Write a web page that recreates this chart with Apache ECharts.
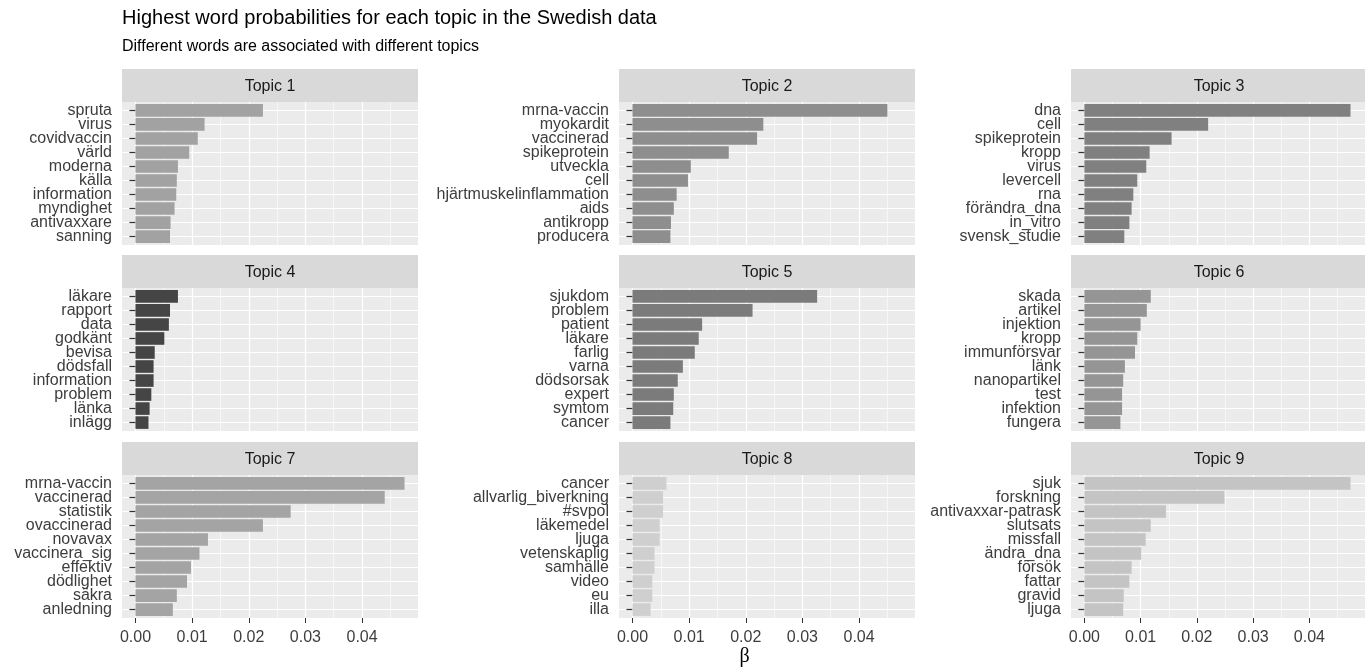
<!DOCTYPE html>
<html>
<head>
<meta charset="utf-8">
<title>Highest word probabilities for each topic in the Swedish data</title>
<script src="https://cdn.jsdelivr.net/npm/echarts@6/dist/echarts.min.js"></script>
<style>
  html, body { margin: 0; padding: 0; background: #ffffff; }
  #chart { width: 1365px; height: 672px; }
</style>
</head>
<body>
<div id="chart"></div>
<script>
// Top ten words per topic with their per-topic word probability (beta)
const topicNames = ['Topic 1', 'Topic 2', 'Topic 3', 'Topic 4', 'Topic 5', 'Topic 6', 'Topic 7', 'Topic 8', 'Topic 9'];

const words1 = ['spruta', 'virus', 'covidvaccin', 'värld', 'moderna', 'källa', 'information', 'myndighet', 'antivaxxare', 'sanning'];
const beta1  = [0.0225, 0.0122, 0.0110, 0.0095, 0.0075, 0.0073, 0.0072, 0.0069, 0.0062, 0.0061];

const words2 = ['mrna-vaccin', 'myokardit', 'vaccinerad', 'spikeprotein', 'utveckla', 'cell', 'hjärtmuskelinflammation', 'aids', 'antikropp', 'producera'];
const beta2  = [0.0450, 0.0231, 0.0220, 0.0170, 0.0103, 0.0098, 0.0078, 0.0073, 0.0068, 0.0067];

const words3 = ['dna', 'cell', 'spikeprotein', 'kropp', 'virus', 'levercell', 'rna', 'förändra_dna', 'in_vitro', 'svensk_studie'];
const beta3  = [0.0473, 0.0220, 0.0155, 0.0116, 0.0110, 0.0094, 0.0087, 0.0084, 0.0080, 0.0071];

const words4 = ['läkare', 'rapport', 'data', 'godkänt', 'bevisa', 'dödsfall', 'information', 'problem', 'länka', 'inlägg'];
const beta4  = [0.0075, 0.0061, 0.0059, 0.0051, 0.0034, 0.0032, 0.0032, 0.0028, 0.0025, 0.0023];

const words5 = ['sjukdom', 'problem', 'patient', 'läkare', 'farlig', 'varna', 'dödsorsak', 'expert', 'symtom', 'cancer'];
const beta5  = [0.0326, 0.0212, 0.0123, 0.0117, 0.0110, 0.0089, 0.0080, 0.0073, 0.0072, 0.0067];

const words6 = ['skada', 'artikel', 'injektion', 'kropp', 'immunförsvar', 'länk', 'nanopartikel', 'test', 'infektion', 'fungera'];
const beta6  = [0.0118, 0.0111, 0.0100, 0.0094, 0.0090, 0.0072, 0.0069, 0.0067, 0.0067, 0.0064];

const words7 = ['mrna-vaccin', 'vaccinerad', 'statistik', 'ovaccinerad', 'novavax', 'vaccinera_sig', 'effektiv', 'dödlighet', 'säkra', 'anledning'];
const beta7  = [0.0475, 0.0440, 0.0274, 0.0225, 0.0128, 0.0113, 0.0098, 0.0091, 0.0073, 0.0066];

const words8 = ['cancer', 'allvarlig_biverkning', '#svpol', 'läkemedel', 'ljuga', 'vetenskaplig', 'samhälle', 'video', 'eu', 'illa'];
const beta8  = [0.0060, 0.0054, 0.0054, 0.0048, 0.0048, 0.0039, 0.0039, 0.0035, 0.0035, 0.0032];

const words9 = ['sjuk', 'forskning', 'antivaxxar-patrask', 'slutsats', 'missfall', 'ändra_dna', 'försök', 'fattar', 'gravid', 'ljuga'];
const beta9  = [0.0473, 0.0249, 0.0145, 0.0118, 0.0109, 0.0101, 0.0084, 0.0080, 0.0070, 0.0069];

const barColors = ['#a2a2a2', '#8e8e8e', '#808080', '#454545', '#7b7b7b', '#959595', '#a4a4a4', '#cfcfcf', '#c4c4c4'];

const betaTicks = [0, 0.01, 0.02, 0.03, 0.04];

const topicWords = [words1, words2, words3, words4, words5, words6, words7, words8, words9];
const topicBetas = [beta1, beta2, beta3, beta4, beta5, beta6, beta7, beta8, beta9];

// Shared x scale across facets, padded 5% on both sides
const maxBeta = Math.max(...topicBetas.map(a => Math.max(...a)));
const xMin = -0.05 * maxBeta;
const xMax = 1.05 * maxBeta;

// Facet layout
const colLeft = [122, 619, 1071];
const rowTop = [102, 288, 475];
const panelW = 296;
const panelH = 143;
const stripH = 33;
// discrete axis padding: 0.6 of a step above the first and below the last word
const unit = panelH / (9 + 1.2);

const FONT = '"Liberation Sans", Arial, sans-serif';
const AXIS_TEXT = '#3d3d3d';

const grids = [], xAxes = [], yAxes = [], series = [], graphics = [];

topicNames.forEach((name, i) => {
  const r = Math.floor(i / 3), c = i % 3;
  const left = colLeft[c], top = rowTop[r];
  const bottomRow = r === 2;

  // panel frame: background, vertical grid lines and the beta axis
  grids.push({
    left: left, top: top, width: panelW, height: panelH,
    show: true, backgroundColor: '#ebebeb', borderWidth: 0, containLabel: false
  });
  // inner plotting area for the word axis and bars
  grids.push({
    left: left, top: top + 0.6 * unit, width: panelW, height: 9 * unit,
    show: false, containLabel: false
  });

  xAxes.push({
    gridIndex: 2 * i, type: 'value', min: xMin, max: xMax,
    axisLine: { show: false },
    axisTick: { show: bottomRow, customValues: betaTicks, length: 5, lineStyle: { color: '#333333', width: 1 } },
    axisLabel: {
      show: bottomRow, customValues: betaTicks, fontSize: 16, color: AXIS_TEXT, margin: 12,
      fontFamily: FONT, formatter: v => v.toFixed(2)
    },
    splitLine: { show: true, lineStyle: { color: '#ffffff', width: 1.2 } },
    minorTick: { show: false, splitNumber: 2 },
    minorSplitLine: { show: true, lineStyle: { color: 'rgba(255,255,255,0.6)', width: 1 } }
  });
  xAxes.push({
    gridIndex: 2 * i + 1, type: 'value', min: xMin, max: xMax, show: false
  });

  yAxes.push({ gridIndex: 2 * i, type: 'value', show: false });
  yAxes.push({
    gridIndex: 2 * i + 1, type: 'category', data: topicWords[i], inverse: true, boundaryGap: false,
    axisLine: { show: false },
    axisTick: { show: true, length: 6, lineStyle: { color: '#333333', width: 1.2 } },
    axisLabel: { fontSize: 16, color: AXIS_TEXT, margin: 10, fontFamily: FONT, interval: 0 },
    splitLine: { show: true, lineStyle: { color: '#ffffff', width: 1.2 } }
  });

  series.push({
    type: 'bar', name: name,
    xAxisIndex: 2 * i + 1, yAxisIndex: 2 * i + 1,
    data: topicBetas[i], barWidth: '90%', clip: false,
    itemStyle: { color: barColors[i] },
    emphasis: { disabled: true },
    z: 3
  });

  // facet strip
  graphics.push({
    type: 'rect', left: left, top: top - stripH,
    shape: { width: panelW, height: stripH },
    style: { fill: '#d9d9d9' }, silent: true
  });
  graphics.push({
    type: 'text', x: left + panelW / 2, y: top - stripH / 2 + 1,
    style: { text: name, fill: '#1a1a1a', font: '16px ' + FONT, textAlign: 'center', textVerticalAlign: 'middle' },
    silent: true
  });
});

// x axis title
graphics.push({
  type: 'text', x: (colLeft[0] + colLeft[2] + panelW) / 2, y: 657,
  style: { text: 'β', fill: '#000000', font: '20px "Liberation Serif", "DejaVu Serif", serif', textAlign: 'center', textVerticalAlign: 'middle' },
  silent: true
});

const chart = echarts.init(document.getElementById('chart'), null, { renderer: 'canvas' });
chart.setOption({
  animation: false,
  backgroundColor: '#ffffff',
  textStyle: { fontFamily: FONT },
  title: {
    left: 117, top: 3,
    text: 'Highest word probabilities for each topic in the Swedish data',
    textStyle: { fontSize: 20, fontWeight: 'normal', color: '#000000', fontFamily: FONT },
    subtext: 'Different words are associated with different topics',
    subtextStyle: { fontSize: 16, color: '#000000', fontFamily: FONT },
    itemGap: 11
  },
  grid: grids,
  xAxis: xAxes,
  yAxis: yAxes,
  series: series,
  graphic: graphics
});
</script>
</body>
</html>
